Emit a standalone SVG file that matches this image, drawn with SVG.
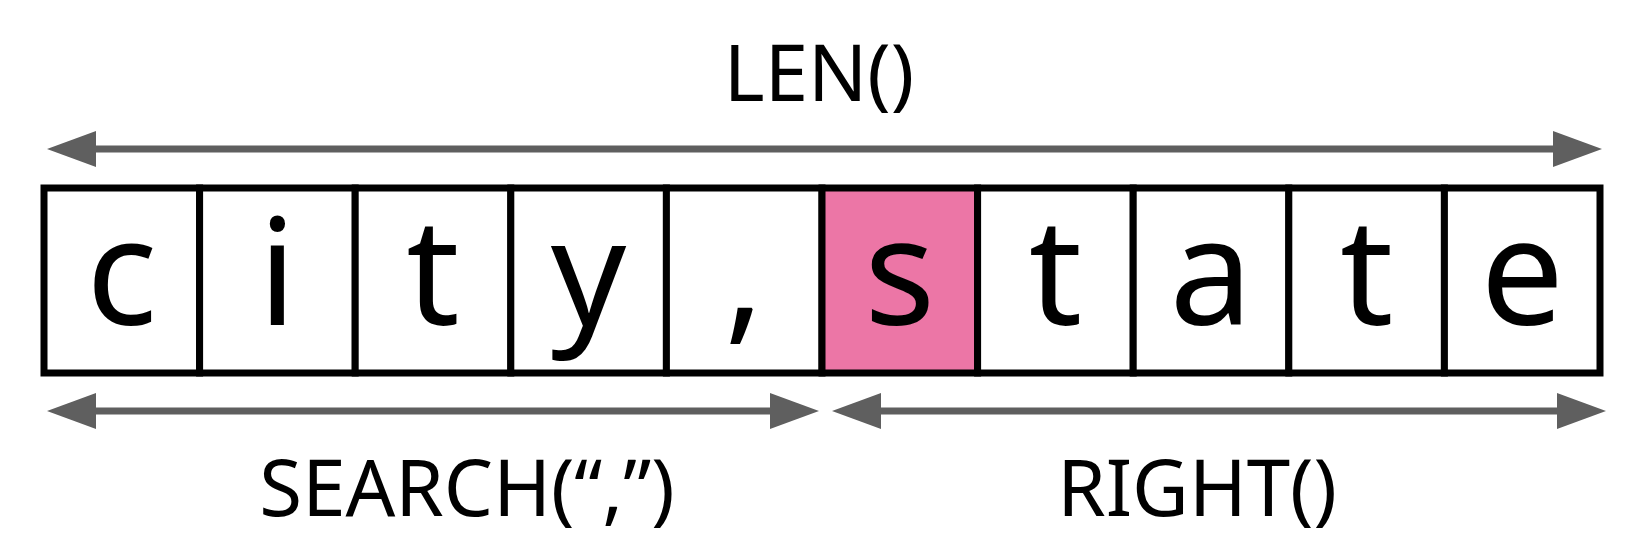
<svg xmlns="http://www.w3.org/2000/svg" width="1646" height="548" viewBox="0 0 1646 548">
<style>
.cell{fill:#fff;stroke:#000;stroke-width:7}
.ch{font-family:"Noto Sans",sans-serif;font-size:148px;text-anchor:middle;fill:#000}
.lbl{font-family:"Noto Sans",sans-serif;font-size:78px;text-anchor:middle;fill:#000}
.ln{stroke:#5f5f5f;stroke-width:7;fill:none}
.hd{fill:#5f5f5f}
</style>
<rect width="1646" height="548" fill="#fff"/>
<g id="cells">
<g id="c0"><rect class="cell" x="44" y="188" width="155.6" height="185"/><text class="ch" x="121.8" y="325">c</text></g>
<g id="c1"><rect class="cell" x="199.6" y="188" width="155.6" height="185"/><text class="ch" x="277.4" y="325">i</text></g>
<g id="c2"><rect class="cell" x="355.2" y="188" width="155.6" height="185"/><text class="ch" x="433" y="325">t</text></g>
<g id="c3"><rect class="cell" x="510.8" y="188" width="155.6" height="185"/><text class="ch" x="588.6" y="325">y</text></g>
<g id="c4"><rect class="cell" x="666.4" y="188" width="155.6" height="185"/><text class="ch" x="744.2" y="325">,</text></g>
<g id="c5"><rect class="cell" x="822" y="188" width="155.6" height="185" style="fill:#ec76a6"/><text class="ch" x="899.8" y="325">s</text></g>
<g id="c6"><rect class="cell" x="977.6" y="188" width="155.6" height="185"/><text class="ch" x="1055.4" y="325">t</text></g>
<g id="c7"><rect class="cell" x="1133.2" y="188" width="155.6" height="185"/><text class="ch" x="1211" y="325">a</text></g>
<g id="c8"><rect class="cell" x="1288.8" y="188" width="155.6" height="185"/><text class="ch" x="1366.6" y="325">t</text></g>
<g id="c9"><rect class="cell" x="1444.4" y="188" width="155.6" height="185"/><text class="ch" x="1522.2" y="325">e</text></g>
</g>
<g id="connectors">
<line class="ln" x1="90" y1="149" x2="1558" y2="149"/>
<polygon class="hd" points="47,149 96,131 96,167"/>
<polygon class="hd" points="1602,149 1553,131 1553,167"/>
<line class="ln" x1="90" y1="411" x2="775" y2="411"/>
<polygon class="hd" points="47,411 96,393 96,429"/>
<polygon class="hd" points="819,411 770,393 770,429"/>
<line class="ln" x1="875" y1="411" x2="1562" y2="411"/>
<polygon class="hd" points="832,411 881,393 881,429"/>
<polygon class="hd" points="1606,411 1557,393 1557,429"/>
</g>
<g id="labels">
<text class="lbl" x="819" y="101">LEN()</text>
<text class="lbl" x="467" y="516">SEARCH(“,”)</text>
<text class="lbl" x="1197" y="516">RIGHT()</text>
</g>
</svg>
